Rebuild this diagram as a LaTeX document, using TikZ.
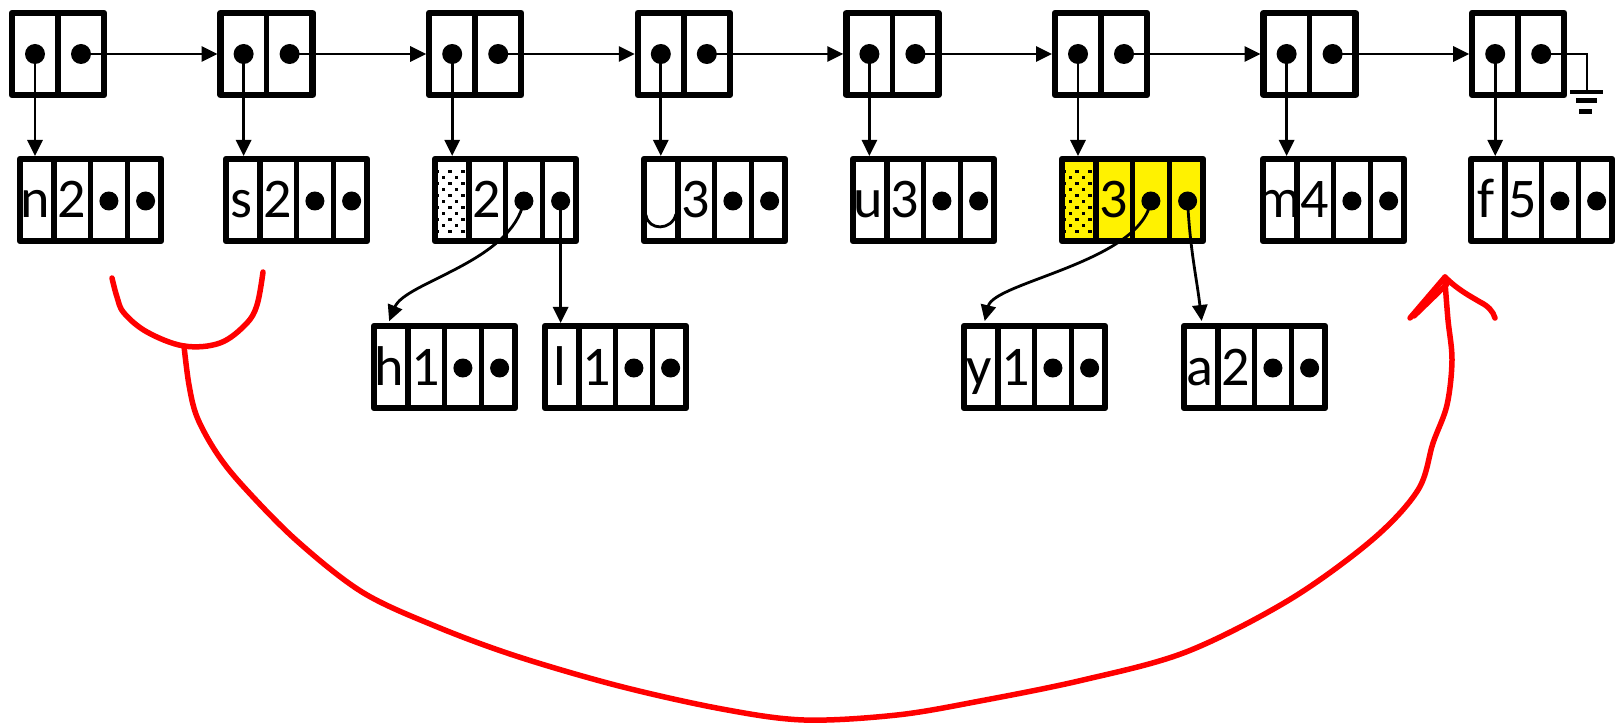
\documentclass[tikz,border=0pt]{standalone}
\usepackage{fontspec}
\setmainfont{Carlito}
\usetikzlibrary{arrows.meta,calc}

% a record of four cells: name, left x, top y, fill, letter, count
\newcommand\recordbox[6]{%
  \node[recbox, fill=#4] (#1) at (#2+73.5, #3+44) {};
  \foreach \k in {1,2,3} \draw[divider] (#2+36.75*\k, #3+2) -- (#2+36.75*\k, #3+86);
  \node[lbl] (#1-a) at (#2+18.4, #3+62) {#5};
  \node[lbl] (#1-b) at (#2+55.1, #3+62) {#6};
  \node[bul] (#1-l) at (#2+91.9, #3+45) {};
  \node[bul] (#1-r) at (#2+128.6, #3+45) {};
}
% a list cell with two pointers: name, left x
\newcommand\consbox[2]{%
  \node[pairbox] (#1) at (#2+49, 54) {};
  \draw[divider] (#1.north) -- (#1.south);
  \node[ptr] (#1-car) at (#2+26, 54) {};
  \node[ptr] (#1-cdr) at (#2+72, 54) {};
}
% stippled first cell: left x, top y
\newcommand\speckle[2]{%
  \foreach \r in {0,2,...,10} \foreach \c in {0,1,2}
    \fill (#1+3+13*\c, #2+14+6*\r) rectangle ++(3.5,3.5);
  \foreach \r in {1,3,...,9} \foreach \c in {0,1}
    \fill (#1+9.5+13*\c, #2+14+6*\r) rectangle ++(3.5,3.5);
}

\begin{document}
\begin{tikzpicture}[x=1pt,y=-1pt,
  box/.style={draw, line width=6.5pt, line join=round, inner sep=0, outer sep=0, minimum height=82pt},
  pairbox/.style={box, minimum width=92pt},
  recbox/.style={box, minimum width=141pt},
  divider/.style={line width=5.5pt},
  ptr/.style={circle, fill, inner sep=0, minimum size=20pt},
  bul/.style={circle, fill, inner sep=0, minimum size=19pt},
  link/.style={line width=2.8pt, shorten >=3pt, -{Triangle[length=16pt,width=15pt]}},
  lbl/.style={font=\fontsize{56}{60}\selectfont, inner sep=0, anchor=base},
  scribble/.style={draw=red, line width=5.5pt, line cap=round, line join=round},
]
\useasboundingbox (0,0) rectangle (1617,727);

% the list spine
\foreach \i in {0,...,7} {\consbox{t\i}{9+208.6*\i}}

% the records hanging from the spine
\recordbox{b0}{17}{156}{white}{n}{2}
\recordbox{b1}{223}{156}{white}{s}{2}
\recordbox{b2}{432}{156}{white}{}{2}
\recordbox{b3}{641}{156}{white}{}{3}
\recordbox{b4}{850}{156}{white}{u}{3}
\recordbox{b5}{1059}{156}{yellow}{}{3}
\recordbox{b6}{1260}{156}{white}{m}{4}
\recordbox{b7}{1468}{156}{white}{f}{5}

% children of the merged records
\recordbox{c1}{371}{323}{white}{h}{1}
\recordbox{c2}{542}{323}{white}{l}{1}
\recordbox{c3}{961}{323}{white}{y}{1}
\recordbox{c4}{1181}{323}{white}{a}{2}

% stippled cells and the visible space
\speckle{432}{156}
\speckle{1059}{156}
\draw[line width=2.8pt] (b3.north west |- 0,215) ++(2,0) .. controls (648,231) and (672,231) .. (676,214);

% pointers along the spine
\foreach \i [evaluate=\i as \j using int(\i+1)] in {0,...,6}
  \draw[link] (t\i-cdr.center) -- (t\i-cdr.center -| t\j.west);
\foreach \i in {0,...,7}
  \draw[link] (t\i-car.center) -- (t\i-car.center |- b\i.north);

% null terminator
\coordinate (gnd) at (1587,92);
\draw[line width=2.8pt] (t7-cdr.center) -| (gnd);
\draw[line width=4pt] (1570,92) -- (1603,92);
\draw[line width=5pt] (1576,101) -- (1597,101);
\draw[line width=5pt] (1579,111.5) -- (1592,111.5);

% tree pointers
\draw[link] (b2-l.center) .. controls (512,262) and (405,282) .. ($(c1.north west)+(14,-2)$);
\draw[link] (b2-r.center) -- (b2-r.center |- c2.north);
\draw[link] (b5-l.center) .. controls (1141,262) and (994,282) .. ($(c3.north west)+(20,-2)$);
\draw[link] (b5-r.center) .. controls (1190,250) and (1197,280) .. ($(c4.north west)+(18,-2)$);

% hand-drawn merge arrow
\draw[scribble] plot[smooth, tension=0.6] coordinates {
  (112,278) (117,297) (124,313) (147,332) (184,346) (220,343) (246,324) (257,305) (263,272)};
\draw[scribble] plot[smooth, tension=0.55] coordinates {
  (184,346) (189,385) (197,417) (216,452) (242,485) (296,540) (362,592) (435,626)
  (516,656) (619,686) (722,709) (804,720) (897,715) (980,701) (1083,680) (1186,652)
  (1289,600) (1372,540) (1418,490) (1433,443) (1447,405) (1452,360) (1448,320) (1445,282)};
\draw[scribble] (1445,277) -- (1410,318);
\draw[scribble] (1447,284) -- (1414,316);
\draw[scribble] (1445,277) .. controls (1458,290) and (1470,296) .. (1480,302) .. controls (1488,306) and (1493,311) .. (1495,318);
\end{tikzpicture}
\end{document}
